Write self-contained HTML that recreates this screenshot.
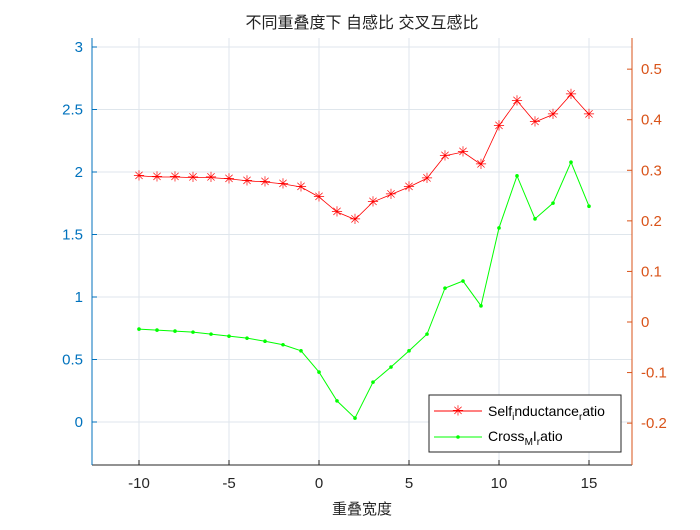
<!DOCTYPE html>
<html><head><meta charset="utf-8"><style>
body{margin:0;background:#fff}
svg text{font-family:"Liberation Sans","Noto Sans CJK SC",sans-serif}
</style></head><body>
<svg id="c" width="700" height="525" viewBox="0 0 700 525">
<rect width="700" height="525" fill="#fff"/>
<g id="grid"></g><g id="axes"></g><g id="series"></g>
<text x="362" y="28" text-anchor="middle" font-size="16" fill="#222">不同重叠度下 自感比 交叉互感比</text>
<text x="362" y="514" text-anchor="middle" font-size="15" fill="#262626">重叠宽度</text>
<g>
<rect x="429" y="395" width="192" height="57" fill="#fff" stroke="#262626" stroke-width="1"/>
<line x1="434" y1="411" x2="482" y2="411" stroke="#f00"/>
<text x="458" y="415.5" text-anchor="middle" font-size="14" fill="#f00">✳</text>
<text x="488" y="416" font-size="14" fill="#000">Self<tspan font-size="10" dy="4">i</tspan><tspan dy="-4">nductance</tspan><tspan font-size="10" dy="4">r</tspan><tspan dy="-4">atio</tspan></text>
<line x1="434" y1="437" x2="482" y2="437" stroke="#0f0"/>
<circle cx="458" cy="437" r="1.8" fill="#0f0"/>
<text x="488" y="441" font-size="14" fill="#000">Cross<tspan font-size="10" dy="4">M</tspan><tspan dy="-4">I</tspan><tspan font-size="10" dy="4">r</tspan><tspan dy="-4">atio</tspan></text>
</g>
</svg>
<script>
const xs=[-10,-9,-8,-7,-6,-5,-4,-3,-2,-1,0,1,2,3,4,5,6,7,8,9,10,11,12,13,14,15];
const selfRatio=[1.97,1.96,1.96,1.955,1.955,1.945,1.93,1.92,1.905,1.88,1.80,1.68,1.62,1.76,1.82,1.88,1.95,2.13,2.16,2.06,2.37,2.57,2.40,2.46,2.62,2.46];
const crossRatio=[-0.014,-0.016,-0.018,-0.020,-0.024,-0.028,-0.032,-0.038,-0.045,-0.057,-0.099,-0.156,-0.19,-0.119,-0.089,-0.057,-0.024,0.067,0.081,0.032,0.186,0.289,0.204,0.235,0.316,0.229];
const xTicks=[-10,-5,0,5,10,15];
const yLTicks=[0,0.5,1,1.5,2,2.5,3];
const yRTicks=[-0.2,-0.1,0,0.1,0.2,0.3,0.4,0.5];
const L=92,R=632,T=38,B=465;
const X=v=>139+(v+10)*18;
const YL=v=>422-v*125;
const YR=v=>322-v*505.7;
const NS='http://www.w3.org/2000/svg';
function mk(p,tag,a){const e=document.createElementNS(NS,tag);for(const k in a)e.setAttribute(k,a[k]);p.appendChild(e);return e;}
const grid=document.getElementById('grid'),axes=document.getElementById('axes'),ser=document.getElementById('series');
xTicks.forEach(t=>{const e=mk(grid,'line',{x1:X(t),x2:X(t),y1:T,y2:B,stroke:'#dfe6ec'});


mk(axes,'line',{x1:X(t),x2:X(t),y1:B,y2:B-5,stroke:'#262626'});
const tx=mk(axes,'text',{x:X(t),y:B+23,'text-anchor':'middle','font-size':15,fill:'#262626'});tx.textContent=t;

});
yLTicks.forEach(t=>{const e=mk(grid,'line',{x1:L,x2:R,y1:YL(t),y2:YL(t),stroke:'#dfe6ec'});


mk(axes,'line',{x1:L,x2:L+5,y1:YL(t),y2:YL(t),stroke:'#0072bd'});
const tx=mk(axes,'text',{x:L-9,y:YL(t)+5,'text-anchor':'end','font-size':15,fill:'#0072bd'});tx.textContent=t;

});
yRTicks.forEach(t=>{mk(axes,'line',{x1:R,x2:R-5,y1:YR(t),y2:YR(t),stroke:'#d95319'});
const tx=mk(axes,'text',{x:R+9,y:YR(t)+5,'font-size':15,fill:'#d95319'});tx.textContent=(Math.round(t*10)/10).toString();

});
mk(axes,'line',{x1:L,x2:R,y1:B,y2:B,stroke:'#262626'});
mk(axes,'line',{x1:L,x2:L,y1:T,y2:B,stroke:'#0072bd'});
mk(axes,'line',{x1:R,x2:R,y1:T,y2:B,stroke:'#d95319'});
const p1=mk(ser,'polyline',{points:xs.map((x,i)=>X(x)+','+YL(selfRatio[i])).join(' '),fill:'none',stroke:'#f00','stroke-width':0.8});


xs.forEach((x,i)=>{const t=mk(ser,'text',{x:X(x),y:YL(selfRatio[i])+4.5,'text-anchor':'middle','font-size':14,fill:'#f00'});t.textContent='✳';

});
const p2=mk(ser,'polyline',{points:xs.map((x,i)=>X(x)+','+YR(crossRatio[i])).join(' '),fill:'none',stroke:'#0f0','stroke-width':1});


xs.forEach((x,i)=>{const c=mk(ser,'circle',{cx:X(x),cy:YR(crossRatio[i]),r:1.8,fill:'#0f0'});

});
</script>
</body></html>
